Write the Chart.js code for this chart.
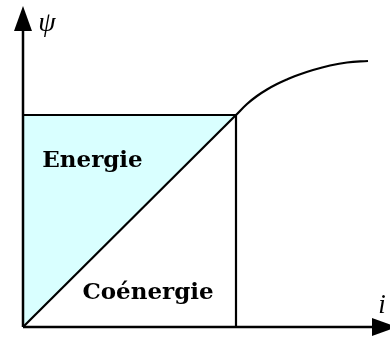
<!DOCTYPE html>
<html>
<head>
<meta charset="utf-8">
<script src="https://cdn.jsdelivr.net/npm/chart.js@4"></script>
<style>
  html, body { margin: 0; padding: 0; background: #ffffff; }
  #wrap { width: 390px; height: 341px; position: relative; }
</style>
</head>
<body>
<div id="wrap"><canvas id="c" width="390" height="341"></canvas></div>
<script>
// ---- data (units: current i on x, flux psi on y) ----
const operatingI = 213;          // operating point current
const operatingPsi = 212;        // operating point flux
const linearX = [0, 213];        // linear part of the characteristic
const linearY = [0, 212];
const curveX = [213, 224, 234, 244, 254, 264, 275, 290, 307, 324, 345];
const curveY = [212, 223, 231, 237.5, 243, 247.5, 252, 257, 261.5, 264.5, 266];
const axisLenX = 361.5;
const axisLenY = 308.5;
const regionLabels = ['Energie', 'Coénergie'];
const axisLabels = ['\u03C8', 'i'];

function pts(xs, ys) { return xs.map((x, k) => ({ x: x, y: ys[k] })); }

// arrow head image
function arrowHead() {
  const c = document.createElement('canvas');
  c.width = 18; c.height = 25;
  const g = c.getContext('2d');
  g.fillStyle = '#000';
  g.beginPath();
  g.moveTo(9, 0); g.lineTo(18, 25); g.lineTo(0, 25); g.closePath();
  g.fill();
  return c;
}
const arrow = arrowHead();

const textPlugin = {
  id: 'texts',
  afterDatasetsDraw(chart) {
    const ctx = chart.ctx;
    const xs = chart.scales.x, ys = chart.scales.y;
    ctx.save();
    ctx.fillStyle = '#000';
    ctx.textAlign = 'center';
    ctx.textBaseline = 'alphabetic';
    ctx.font = 'bold 23px "DejaVu Serif"';
    ctx.fillText(regionLabels[0], xs.getPixelForValue(69.5), ys.getPixelForValue(160.5));
    ctx.fillText(regionLabels[1], xs.getPixelForValue(125), ys.getPixelForValue(28.5));
    ctx.font = 'italic 28px "Liberation Serif"';
    ctx.textBaseline = 'middle';
    ctx.fillText(axisLabels[0], xs.getPixelForValue(24), ys.getPixelForValue(303));
    ctx.font = 'italic 27px "Liberation Serif"';
    ctx.fillText(axisLabels[1], xs.getPixelForValue(359), ys.getPixelForValue(21));
    ctx.restore();
  }
};

new Chart(document.getElementById('c'), {
  type: 'scatter',
  data: {
    datasets: [
      { // energy fill: between linear line and psi level
        data: pts(linearX, linearY),
        showLine: true, borderWidth: 0, borderColor: 'rgba(0,0,0,0)',
        backgroundColor: '#d9ffff', pointRadius: 0,
        fill: { target: { value: operatingPsi } }, order: 10
      },
      { // linear part
        data: pts(linearX, linearY),
        showLine: true, borderColor: '#000', borderWidth: 2.2, pointRadius: 0, fill: false, order: 5
      },
      { // horizontal psi level
        data: pts([0, operatingI], [operatingPsi, operatingPsi]),
        showLine: true, borderColor: '#000', borderWidth: 2.2, pointRadius: 0, fill: false, order: 5
      },
      { // vertical at operating current
        data: pts([operatingI, operatingI], [operatingPsi, 0]),
        showLine: true, borderColor: '#000', borderWidth: 2.2, pointRadius: 0, fill: false, order: 5
      },
      { // saturation curve
        data: pts(curveX, curveY),
        showLine: true, borderColor: '#000', borderWidth: 2.2, pointRadius: 0, fill: false,
        tension: 0.4, order: 5
      },
      { // y axis
        data: pts([0, 0], [0, axisLenY]),
        showLine: true, borderColor: '#000', borderWidth: 2.5,
        pointRadius: [0, 5], pointStyle: arrow, pointRotation: 0, fill: false, order: 1
      },
      { // x axis
        data: pts([0, axisLenX], [0, 0]),
        showLine: true, borderColor: '#000', borderWidth: 2.5,
        pointRadius: [0, 5], pointStyle: arrow, pointRotation: 90, fill: false, order: 1
      }
    ]
  },
  options: {
    responsive: false,
    animation: false,
    layout: { padding: 0, autoPadding: false },
    plugins: { legend: { display: false }, tooltip: { enabled: false } },
    scales: {
      x: { type: 'linear', min: -23, max: 367, display: false },
      y: { type: 'linear', min: -14, max: 327, display: false }
    },
    elements: { line: { borderCapStyle: 'butt' } }
  },
  plugins: [textPlugin]
});
</script>
</body>
</html>
